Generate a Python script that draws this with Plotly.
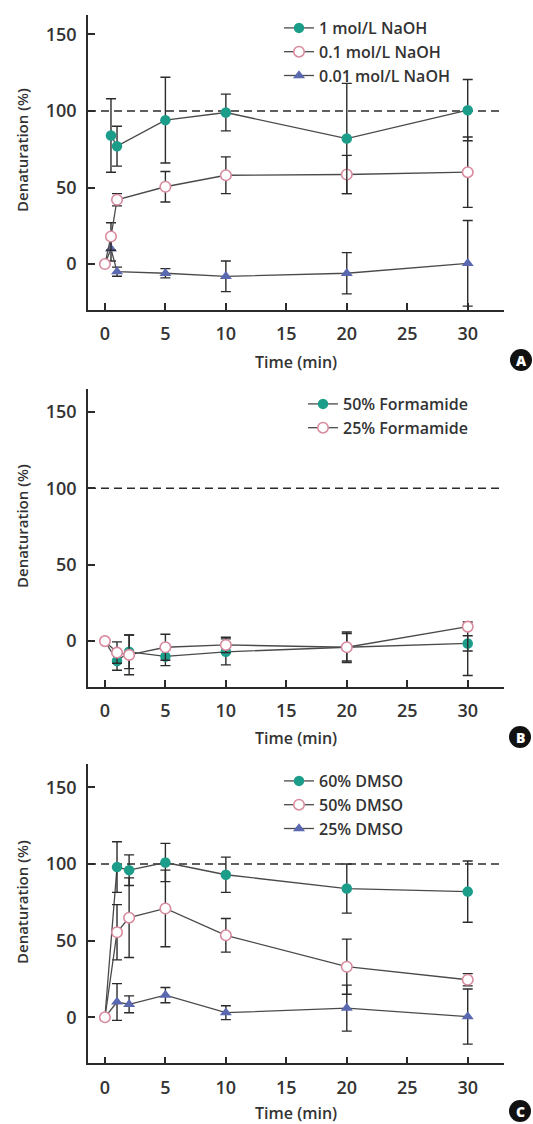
import plotly.graph_objects as go

# ---------------- data ----------------
A_x_1M = [0.5, 1, 5, 10, 20, 30]
A_y_1M = [84, 77, 94, 99, 82, 100.5]
A_e_1M = [24, 13, 28, 12, 36, 20]

A_x_01M = [0, 0.5, 1, 5, 10, 20, 30]
A_y_01M = [0, 18, 42, 50.5, 58, 58.5, 60]
A_e_01M = [0, 9, 4, 10, 12, 12.5, 23]

A_x_001M = [0, 0.5, 1, 5, 10, 20, 30]
A_y_001M = [0, 10, -5, -6, -8, -6, 0.5]
A_e_001M = [0, 8, 3, 3, 10, 13.5, 28]

B_x = [0, 1, 2, 5, 10, 20, 30]
B_y_50 = [0, -13, -7, -10, -7, -4, -1.5]
B_e_50 = [0, 6, 11, 6, 8.5, 10, 5]
B_y_25 = [0, -7.5, -9, -4, -2.5, -4, 9.5]
B_e_25_plus = [0, 7, 13, 8.5, 5, 9, 3]
B_e_25_minus = [0, 7, 13, 8.5, 5, 9, 32]

C_x = [0, 1, 2, 5, 10, 20, 30]
C_y_60 = [0, 98, 96, 101, 93, 84, 82]
C_e_60 = [0, 16.5, 10, 12.5, 11.5, 16, 20]
C_y_50 = [0, 55.5, 65, 71, 53.5, 33, 24.5]
C_e_50 = [0, 18, 26, 25, 11, 18, 4]
C_y_25 = [0, 10, 8.5, 14.5, 3, 6, 0.5]
C_e_25 = [0, 12, 5.5, 5, 4.5, 15, 18]

x_ticks = [0, 5, 10, 15, 20, 25, 30]
y_ticks = [0, 50, 100, 150]

# ---------------- style ----------------
W, H = 533, 1124
TEAL = "#1b9d8a"
PINK = "#d98a9e"
BLUE = "#5a68b0"
LINE = "#4a4a4a"
DARK = "#2b2b2b"
FONT = "Open Sans"
MS = 10.5

def px(p):
    return p / W

def py(p):
    return 1 - p / H

fig = go.Figure()

def add(xs, ys, err, name, sym, color, xa, ya, legend, open_marker=False,
        err_minus=None, hide_origin=False):
    if open_marker:
        marker = dict(symbol="circle", size=MS, color="white",
                      line=dict(width=1.6, color=color))
    else:
        marker = dict(symbol=sym, size=MS, color=color, line=dict(width=0))
    if hide_origin:
        # connecting line from the origin (its marker hidden under the open circle)
        fig.add_trace(go.Scatter(
            x=xs[:2], y=ys[:2], mode="lines", showlegend=False, hoverinfo="skip",
            line=dict(color=LINE, width=1.3), xaxis=xa, yaxis=ya))
        xs, ys, err = xs[1:], ys[1:], err[1:]
        if err_minus is not None:
            err_minus = err_minus[1:]
    ey = dict(type="data", array=err, visible=True, color=DARK, thickness=1.4, width=5)
    if err_minus is not None:
        ey["symmetric"] = False
        ey["arrayminus"] = err_minus
    fig.add_trace(go.Scatter(
        x=xs, y=ys, name=name, mode="lines+markers",
        line=dict(color=LINE, width=1.3),
        marker=marker, error_y=ey, xaxis=xa, yaxis=ya, legend=legend,
    ))

# Panel A (drawn bottom-up so pink/teal sit on top)
add(A_x_001M, A_y_001M, A_e_001M, "0.01 mol/L NaOH", "triangle-up", BLUE, "x", "y", "legend", hide_origin=True)
add(A_x_01M, A_y_01M, A_e_01M, "0.1 mol/L NaOH", "circle", PINK, "x", "y", "legend", open_marker=True)
add(A_x_1M, A_y_1M, A_e_1M, "1 mol/L NaOH", "circle", TEAL, "x", "y", "legend")

# Panel B
add(B_x, B_y_50, B_e_50, "50% Formamide", "circle", TEAL, "x2", "y2", "legend2", hide_origin=True)
add(B_x, B_y_25, B_e_25_plus, "25% Formamide", "circle", PINK, "x2", "y2", "legend2", open_marker=True, err_minus=B_e_25_minus)

# Panel C
add(C_x, C_y_25, C_e_25, "25% DMSO", "triangle-up", BLUE, "x3", "y3", "legend3", hide_origin=True)
add(C_x, C_y_60, C_e_60, "60% DMSO", "circle", TEAL, "x3", "y3", "legend3", hide_origin=True)
add(C_x, C_y_50, C_e_50, "50% DMSO", "circle", PINK, "x3", "y3", "legend3", open_marker=True)

# pixel geometry of the three panels: (top, bottom, y-range)
panels = [
    (14.5, 310.0, [-30, 163]),
    (388.8, 687.0, [-30, 165]),
    (764.4, 1063.3, [-30, 165]),
]
x_dom = [px(88), px(504)]
x_range = [-1.4, 33.0]

axis_common = dict(
    showline=True, linecolor=DARK, linewidth=1.5, mirror=False,
    ticks="inside", ticklen=7, tickwidth=1.5, tickcolor=DARK,
    showgrid=False, zeroline=False,
    tickfont=dict(family=FONT, size=18, color="#333333", weight=600),
)

layout = dict(
    width=W, height=H, margin=dict(l=0, r=0, t=0, b=0),
    paper_bgcolor="white", plot_bgcolor="white",
    font=dict(family=FONT, color="#333333"),
    showlegend=True,
)

for i, (top, bot, yr) in enumerate(panels):
    sx = "" if i == 0 else str(i + 1)
    layout["xaxis" + sx] = dict(
        domain=x_dom, range=x_range, tickvals=x_ticks,
        anchor="y" + sx, ticklabelstandoff=7, **axis_common)
    layout["yaxis" + sx] = dict(
        domain=[py(bot), py(top)], range=yr, tickvals=y_ticks,
        anchor="x" + sx, ticklabelstandoff=6, **axis_common)

legend_common = dict(
    xanchor="left", yanchor="top", bgcolor="rgba(0,0,0,0)",
    font=dict(family=FONT, size=16, color="#333333", weight=600),
    itemwidth=30, tracegroupgap=0,
)
layout["legend"] = dict(x=px(279), y=py(11), traceorder="reversed", **legend_common)
layout["legend2"] = dict(x=px(303), y=py(387), traceorder="normal", **legend_common)
layout["legend3"] = dict(x=px(279), y=py(764), traceorder="normal", **legend_common)

fig.update_layout(**layout)

# legend order for C: 60%, 50%, 25%  (set via legendrank)
rank = {"60% DMSO": 1, "50% DMSO": 2, "25% DMSO": 3,
        "50% Formamide": 1, "25% Formamide": 2}
for tr in fig.data:
    if tr.name in rank:
        tr.legendrank = rank[tr.name]

shapes = []
annotations = []
xtitle_y = [362, 738, 1113]
ytitle_y = [150, 526, 902]
badge = [(521, 360, "A"), (520, 737, "B"), (520, 1111, "C")]
for i, (top, bot, yr) in enumerate(panels):
    sx = "" if i == 0 else str(i + 1)
    shapes.append(dict(
        type="line", xref=("x" + sx) + " domain", yref="y" + sx,
        x0=0, x1=1, y0=100, y1=100,
        line=dict(color=DARK, width=1.5, dash="8px,5px"), layer="below"))
    annotations.append(dict(
        text="Time (min)", xref="paper", yref="paper",
        x=px(296), y=py(xtitle_y[i]), showarrow=False,
        xanchor="center", yanchor="middle",
        font=dict(family=FONT, size=16, color="#333333", weight=600)))
    annotations.append(dict(
        text="Denaturation (%)", xref="paper", yref="paper",
        x=px(22), y=py(ytitle_y[i]), showarrow=False, textangle=-90,
        xanchor="center", yanchor="middle",
        font=dict(family=FONT, size=15, color="#333333", weight=600)))
    bx, by, letter = badge[i]
    r = 11
    shapes.append(dict(
        type="circle", xref="paper", yref="paper",
        x0=px(bx - r), x1=px(bx + r), y0=py(by + r), y1=py(by - r),
        fillcolor="#111111", line=dict(width=0)))
    annotations.append(dict(
        text=letter, xref="paper", yref="paper",
        x=px(bx), y=py(by), showarrow=False,
        xanchor="center", yanchor="middle",
        font=dict(family=FONT, size=14, color="white", weight=800)))

fig.update_layout(shapes=shapes, annotations=annotations)

fig.write_html("out.html")
